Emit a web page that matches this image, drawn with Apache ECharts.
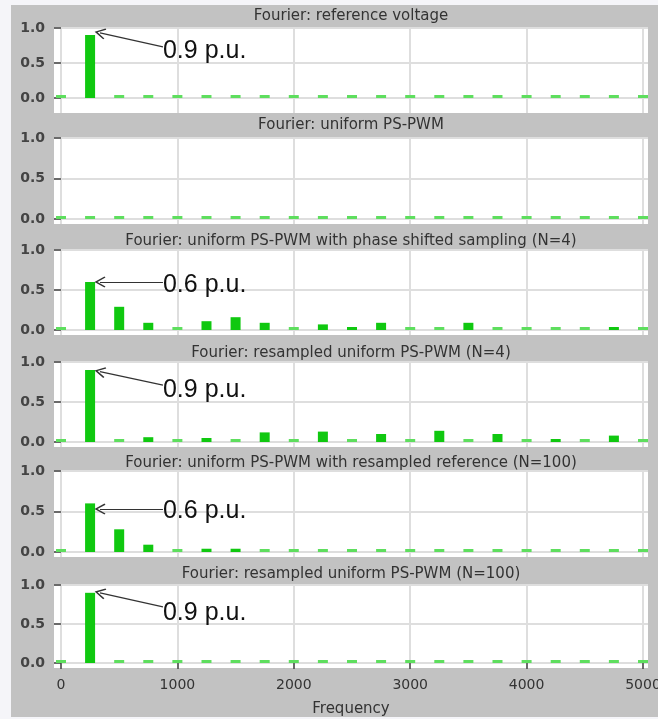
<!DOCTYPE html>
<html>
<head>
<meta charset="utf-8">
<script src="https://cdn.jsdelivr.net/npm/echarts@6/dist/echarts.min.js"></script>
<style>
html,body{margin:0;padding:0;background:#f5f5f9;}
#chart{width:658px;height:719px;}
</style>
</head>
<body>
<div id="chart"></div>
<script>
// ---- data ----
const frequencies = [0,250,500,750,1000,1250,1500,1750,2000,2250,2500,2750,3000,3250,3500,3750,4000,4250,4500,4750,5000];
const panelTitles = [
  'Fourier: reference voltage',
  'Fourier: uniform PS-PWM',
  'Fourier: uniform PS-PWM with phase shifted sampling (N=4)',
  'Fourier: resampled uniform PS-PWM (N=4)',
  'Fourier: uniform PS-PWM with resampled reference (N=100)',
  'Fourier: resampled uniform PS-PWM (N=100)'
];
const referenceVoltage   = [0,0.9,0,0,0,0,0,0,0,0,0,0,0,0,0,0,0,0,0,0,0];
const uniformPSPWM       = [0,0,0,0,0,0,0,0,0,0,0,0,0,0,0,0,0,0,0,0,0];
const phaseShiftedN4     = [0,0.6,0.29,0.09,0,0.11,0.16,0.09,0,0.07,0.01,0.09,0,0,0.09,0,0,0,0,0.03,0];
const resampledN4        = [0,0.9,0,0.06,0,0.05,0,0.12,0,0.13,0,0.1,0,0.14,0,0.1,0,0.03,0,0.08,0];
const resampledRefN100   = [0,0.6,0.28,0.09,0,0.04,0.04,0,0,0,0,0,0,0,0,0,0,0,0,0,0];
const resampledN100      = [0,0.9,0,0,0,0,0,0,0,0,0,0,0,0,0,0,0,0,0,0,0];
const panelValues = [referenceVoltage, uniformPSPWM, phaseShiftedN4, resampledN4, resampledRefN100, resampledN100];
const xTickValues = [0,1000,2000,3000,4000,5000];
const yTickValues = [0,0.5,1];
const xAxisName = 'Frequency';
// annotations (data coordinates)
const annoText  = ['0.9 p.u.', null, '0.6 p.u.', '0.9 p.u.', '0.6 p.u.', '0.9 p.u.'];
const annoTip   = [[335,0.93], null, [335,0.6], [335,0.88], [335,0.53], [335,0.9]];
const annoFrom  = [[876,0.73], null, [876,0.6], [876,0.71], [876,0.53], [876,0.72]];
const annoTextY = [0.67, null, 0.56, 0.65, 0.5, 0.64];

// ---- layout ----
const panelTop    = [28,138,250,362,471,585];
const panelBottom = [113,224,335,447,557,668];
const panelYMin   = [-0.214,-0.062,-0.0625,-0.0625,-0.062,-0.064];
const titleCenterY = [16,125,241,353,463,574];
const plotLeft = 54, plotRight = 648;
const W = 658, H = 719;

const barColor = '#10c810';
const dashColor = '#5ede5e';
const gridLineColor = '#dedede';
const chevron = 'path://M5,0 L10,10 L9,11 L5,3 L1,11 L0,10 Z';

const chart = echarts.init(document.getElementById('chart'), null, {renderer:'canvas'});

const grids = [], xAxes = [], yAxes = [], series = [], titles = [];
panelValues.forEach((vals, i) => {
  const last = i === panelValues.length - 1;
  grids.push({left: plotLeft, right: W - plotRight, top: panelTop[i], height: panelBottom[i] - panelTop[i],
    outerBoundsMode: 'none', containLabel: false,
    show: true, backgroundColor: '#ffffff', borderWidth: 0});
  titles.push({text: panelTitles[i], left: (plotLeft + plotRight) / 2, top: titleCenterY[i] - 9, textAlign: 'center', padding: 0,
    textStyle: {fontFamily: 'DejaVu Sans', fontSize: 15, fontWeight: 'normal', color: '#333', lineHeight: 18}});
  xAxes.push({
    type: 'value', gridIndex: i, min: -60, max: 5043,
    axisLine: {show: false},
    axisTick: {show: last, customValues: xTickValues, length: 6, lineStyle: {color: '#444', width: 1.5}},
    axisLabel: {show: last, customValues: xTickValues, margin: 10, formatter: v => String(v),
      fontFamily: 'DejaVu Sans', fontSize: 14, color: '#333'},
    splitLine: {show: true, lineStyle: {color: gridLineColor, width: 2}},
    name: last ? xAxisName : '', nameLocation: 'middle', nameGap: 34,
    nameTextStyle: {fontFamily: 'DejaVu Sans', fontSize: 15, color: '#333'}
  });
  yAxes.push({
    type: 'value', gridIndex: i, min: panelYMin[i], max: 1,
    axisLine: {show: false},
    axisTick: {show: true, customValues: yTickValues, length: 7, lineStyle: {color: '#444', width: 1.5}},
    axisLabel: {customValues: yTickValues, margin: 9, formatter: v => v.toFixed(1),
      fontFamily: 'DejaVu Sans', fontSize: 14, fontWeight: 'bold', color: '#444'},
    splitLine: {show: true, lineStyle: {color: gridLineColor, width: 2}}
  });
  const s = {
    type: 'bar', xAxisIndex: i, yAxisIndex: i,
    data: frequencies.map((f, k) => [f, vals[k]]),
    barWidth: 10, barMinHeight: 3,
    itemStyle: {color: p => (p.value[1] === 0 ? dashColor : barColor)},
    silent: true
  };
  if (annoText[i]) {
    s.markLine = {
      silent: true, animation: false,
      symbol: ['none', chevron], symbolSize: 11,
      label: {show: false},
      lineStyle: {color: '#333', width: 1.2, type: 'solid'},
      data: [[{coord: annoFrom[i]}, {coord: annoTip[i]}]]
    };
    s.markPoint = {
      silent: true, animation: false,
      symbol: 'circle', symbolSize: 0,
      itemStyle: {color: 'rgba(0,0,0,0)'},
      label: {show: true, position: 'right', distance: 0, formatter: '{b}',
        fontFamily: 'Liberation Sans', fontSize: 25, color: '#111'},
      data: [{name: annoText[i], coord: [annoFrom[i][0], annoTextY[i]]}]
    };
  }
  series.push(s);
});

chart.setOption({
  animation: false,
  backgroundColor: 'transparent',
  graphic: [{type: 'rect', z: -100, silent: true, shape: {x: 11, y: 5, width: W - 11, height: 712}, style: {fill: '#c2c2c2'}}],
  title: titles,
  grid: grids,
  xAxis: xAxes,
  yAxis: yAxes,
  series: series
});
</script>
</body>
</html>
